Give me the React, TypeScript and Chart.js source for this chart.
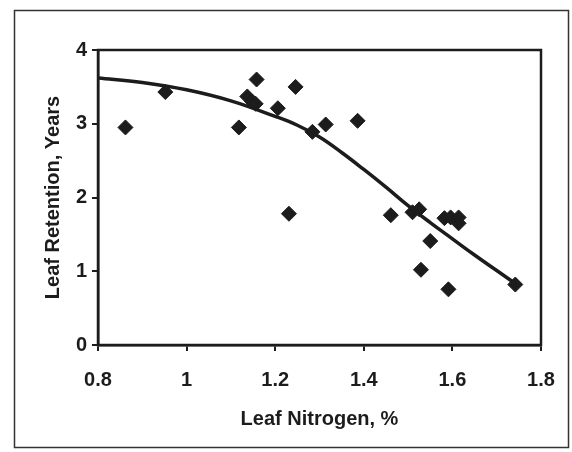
import React, { useEffect, useRef } from "react";
import { Chart, registerables } from "chart.js";

Chart.register(...registerables);

// Observed data: leaf nitrogen (%) vs leaf retention (years)
const nitrogen = [0.862, 0.952, 1.118, 1.137, 1.148, 1.156, 1.158, 1.206, 1.246, 1.231, 1.284, 1.314, 1.386, 1.461, 1.51, 1.525, 1.529, 1.55, 1.582, 1.596, 1.614, 1.614, 1.591, 1.742];
const retention = [2.95, 3.43, 2.95, 3.37, 3.3, 3.27, 3.6, 3.21, 3.5, 1.78, 2.89, 2.99, 3.04, 1.76, 1.8, 1.84, 1.02, 1.41, 1.72, 1.73, 1.73, 1.65, 0.755, 0.82];

// Fitted curve
const fitX = [0.8, 0.9, 1.0, 1.1, 1.2, 1.25, 1.3, 1.35, 1.4, 1.45, 1.5, 1.55, 1.6, 1.65, 1.7, 1.745];
const fitY = [3.62, 3.56, 3.46, 3.31, 3.1, 2.98, 2.82, 2.61, 2.38, 2.14, 1.89, 1.66, 1.44, 1.22, 1.01, 0.82];

// Axis ticks
const xTickValues = [0.8, 1, 1.2, 1.4, 1.6, 1.8];
const xTickLabels = ["0.8", "1", "1.2", "1.4", "1.6", "1.8"];
const yTickValues = [0, 1, 2, 3, 4];
const yTickLabels = ["0", "1", "2", "3", "4"];

const xTitle = "Leaf Nitrogen, %";
const yTitle = "Leaf Retention, Years";

const INK = "#1c1c1c";
const FONT = "'Liberation Sans', Arial, sans-serif";

const framePlugin = {
  id: "frames",
  beforeDraw(chart: any) {
    const { ctx, width, height } = chart;
    ctx.save();
    ctx.fillStyle = "#ffffff";
    ctx.fillRect(0, 0, width, height);
    ctx.restore();
  },
  afterDraw(chart: any) {
    const { ctx, chartArea: a } = chart;
    ctx.save();
    ctx.strokeStyle = INK;
    ctx.lineWidth = 2.5;
    ctx.strokeRect(a.left, a.top, a.right - a.left, a.bottom - a.top);
    ctx.strokeStyle = "#333333";
    ctx.lineWidth = 1.5;
    ctx.strokeRect(14.5, 10.5, 554, 437);
    ctx.restore();
  },
};

export default function App() {
  const ref = useRef<HTMLCanvasElement | null>(null);

  useEffect(() => {
    if (!ref.current) return;
    const points = nitrogen.map((x, i) => ({ x, y: retention[i] }));
    const curve = fitX.map((x, i) => ({ x, y: fitY[i] }));
    const chart = new Chart(ref.current, {
      type: "scatter",
      data: {
        datasets: [
          {
            label: "fit",
            data: curve,
            showLine: true,
            borderColor: INK,
            borderWidth: 3.5,
            pointRadius: 0,
            tension: 0.4,
            fill: false,
            order: 2,
          } as any,
          {
            label: "observed",
            data: points,
            showLine: false,
            pointStyle: "rectRot",
            pointRadius: 7.5,
            backgroundColor: INK,
            borderColor: INK,
            borderWidth: 1,
            order: 1,
          } as any,
        ],
      },
      options: {
        responsive: false,
        animation: false,
        events: [],
        layout: { padding: { left: 41, top: 50, right: 31, bottom: 21 } },
        plugins: {
          legend: { display: false },
          tooltip: { enabled: false },
        },
        scales: {
          x: {
            type: "linear",
            min: 0.8,
            max: 1.8,
            afterBuildTicks: (scale: any) => {
              scale.ticks = xTickValues.map((v) => ({ value: v }));
            },
            afterFit: (scale: any) => {
              scale.height = 86;
            },
            ticks: {
              color: INK,
              padding: 17,
              maxRotation: 0,
              autoSkip: false,
              font: { family: FONT, size: 20, weight: "bold" },
              callback: (_v: any, i: number) => xTickLabels[i],
            },
            grid: {
              display: true,
              drawOnChartArea: false,
              drawTicks: true,
              tickLength: 6,
              color: INK,
              lineWidth: 2,
            },
            border: { display: true, color: INK, width: 2.5 },
            title: {
              display: true,
              text: xTitle,
              color: INK,
              padding: 0,
              font: { family: FONT, size: 20, weight: "bold" },
            },
          },
          y: {
            type: "linear",
            min: 0,
            max: 4,
            afterBuildTicks: (scale: any) => {
              scale.ticks = yTickValues.map((v) => ({ value: v }));
            },
            afterFit: (scale: any) => {
              scale.width = 57;
            },
            ticks: {
              color: INK,
              padding: 5,
              autoSkip: false,
              font: { family: FONT, size: 20, weight: "bold" },
              callback: (_v: any, i: number) => yTickLabels[i],
            },
            grid: {
              display: true,
              drawOnChartArea: false,
              drawTicks: true,
              tickLength: 6,
              color: INK,
              lineWidth: 2,
            },
            border: { display: true, color: INK, width: 2.5 },
            title: {
              display: true,
              text: yTitle,
              color: INK,
              padding: 0,
              font: { family: FONT, size: 20, weight: "bold" },
            },
          },
        },
      },
      plugins: [framePlugin],
    });
    return () => chart.destroy();
  }, []);

  return (
    <div style={{ position: "fixed", left: 0, top: 0, width: 572, height: 452 }}>
      <canvas ref={ref} width={572} height={452} style={{ display: "block" }} />
    </div>
  );
}
